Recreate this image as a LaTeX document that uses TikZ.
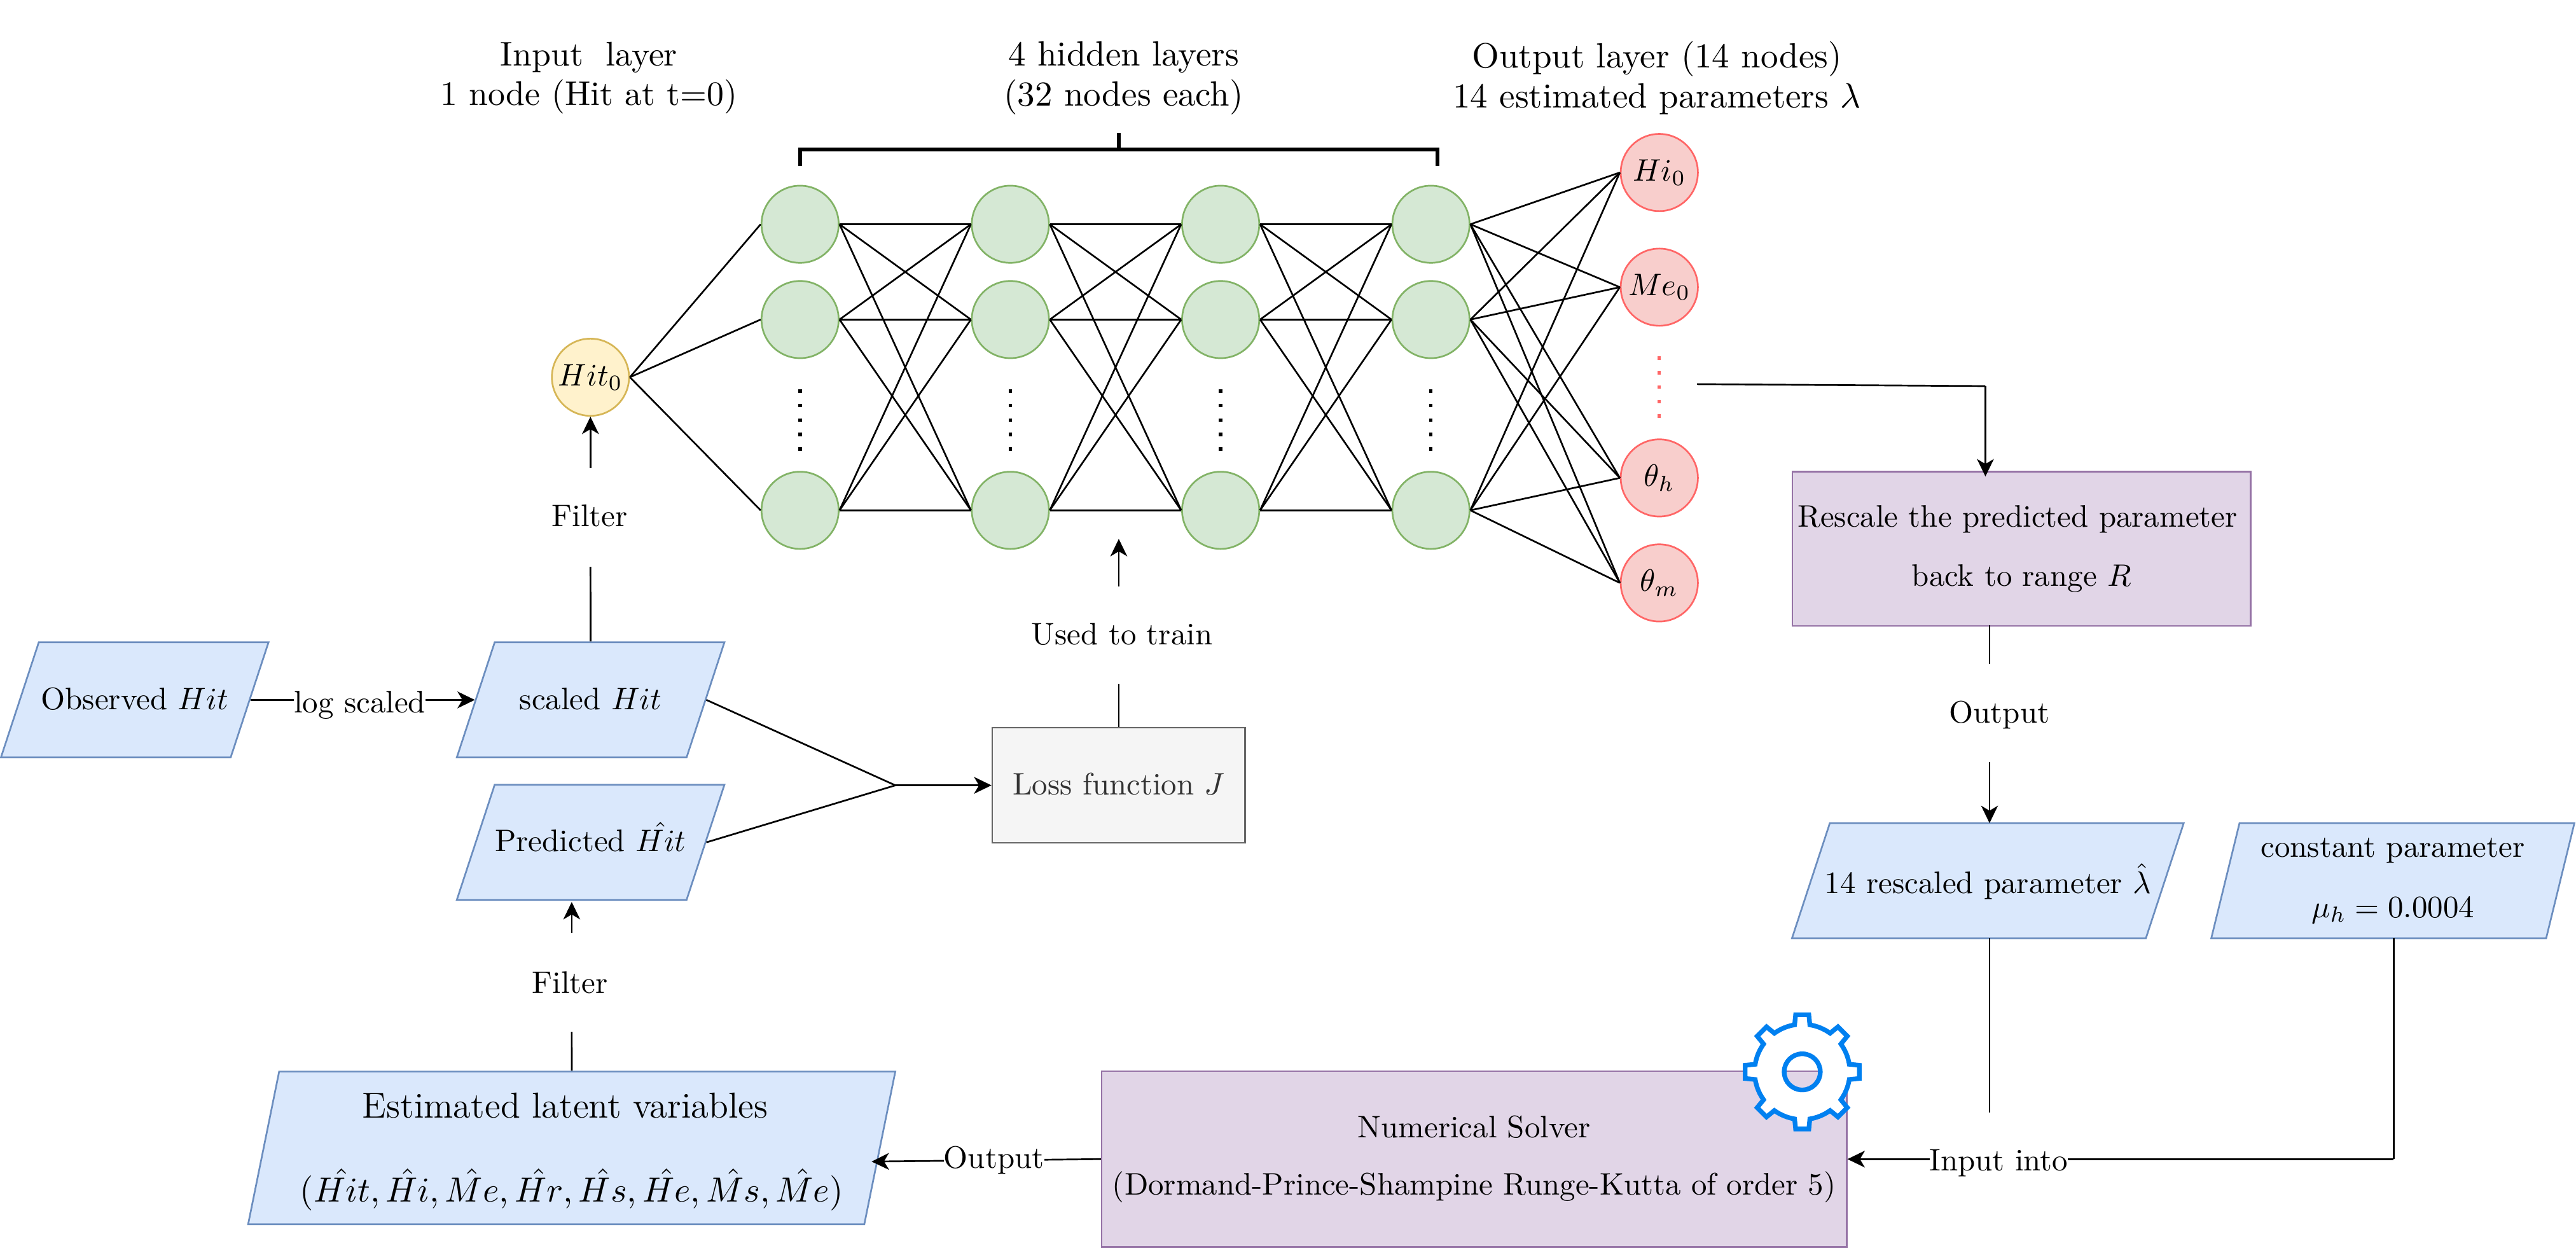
\documentclass[tikz,border=0pt]{standalone}
\usetikzlibrary{arrows.meta,shapes.geometric}

\definecolor{inputfill}{HTML}{FFF2CC}
\definecolor{inputdraw}{HTML}{D6B656}
\definecolor{hiddenfill}{HTML}{D5E8D4}
\definecolor{hiddendraw}{HTML}{82B366}
\definecolor{outfill}{HTML}{F8CECC}
\definecolor{outdraw}{HTML}{FF6666}
\definecolor{datafill}{HTML}{DAE8FC}
\definecolor{datadraw}{HTML}{6C8EBF}
\definecolor{procfill}{HTML}{E1D5E7}
\definecolor{procdraw}{HTML}{9673A6}
\definecolor{lossfill}{HTML}{F5F5F5}
\definecolor{lossdraw}{HTML}{666666}
\definecolor{geardraw}{HTML}{0080F0}

\begin{document}
\begin{tikzpicture}[x=0.528pt, y=0.528pt,
    % Styles
    neuron/.style={circle, line width=0.55pt, minimum size=24.8pt, inner sep=0pt},
    inputnode/.style={neuron, draw=inputdraw, fill=inputfill},
    hiddennode/.style={neuron, draw=hiddendraw, fill=hiddenfill},
    outputnode/.style={neuron, draw=outdraw, fill=outfill},
    databox/.style={trapezium, trapezium stretches body, trapezium left angle=71.8, trapezium right angle=108.2,
        draw=datadraw, fill=datafill, line width=0.55pt, inner sep=0pt, align=center, minimum height=37pt, minimum width=86pt},
    databar/.style={databox, execute at begin node={\rule[-15.5pt]{0pt}{37pt}}},
    procbox/.style={rectangle, draw=procdraw, fill=procfill, line width=0.55pt, inner sep=0pt, align=center},
    lossbox/.style={rectangle, draw=lossdraw, fill=lossfill, text=black!80, line width=0.55pt, inner sep=0pt,
        minimum width=81.3pt, minimum height=37pt, text height=7pt, text depth=1pt},
    heading/.style={font=\fontsize{10}{11.5}\selectfont, scale=1.1, align=center, inner sep=0pt},
    plaintext/.style={inner sep=0pt},
    onwire/.style={inner sep=0pt, fill=white},
    link/.style={line width=0.55pt},
    wire/.style={line width=0.55pt},
    arrow/.style={-{Stealth[length=5.6pt, width=5.4pt, inset=1.6pt]}, line width=0.55pt},
    dotsblack/.style={line width=1.1pt, dash pattern=on 1.1pt off 3.55pt},
    dotsred/.style={outdraw, line width=1pt, dash pattern=on 1.1pt off 3.55pt},
    gearline/.style={draw=geardraw, fill=white, line width=1.5pt, even odd rule},
]
\useasboundingbox (0,0) rectangle (1568,-759.6);

% Headings
\node[heading] (inhead) at (358.5,-47.5) {Input\ \ layer\\1 node (Hit at t=0)};
\node[heading, scale=1.125/1.1] (hidhead) at (684,-47.5) {4 hidden layers\\(32 nodes each)};
\node[heading, scale=1.125/1.1] (outhead) at (1008.5,-47.5) {Output layer (14 nodes)\\14 estimated parameters $\lambda$};

% Input node
\node[inputnode] (hit) at (359.4,-229.6) {$Hit_0$};

% Hidden layers
\foreach \c/\x in {1/487,2/615,3/743,4/871} {
    \node[hiddennode] (h\c a) at (\x,-136.5) {};
    \node[hiddennode] (h\c b) at (\x,-194.5) {};
    \node[hiddennode] (h\c c) at (\x,-310.6) {};
    \draw[dotsblack] (\x,-237) -- (\x,-276);
}

% Output nodes
\node[outputnode] (hi) at (1010,-105) {$Hi_0$};
\node[outputnode] (me) at (1010,-174.8) {$Me_0$};
\node[outputnode] (th) at (1010,-290.9) {$\theta_h$};
\node[outputnode] (tm) at (1010,-354.8) {$\theta_m$};
\draw[dotsred] (1010,-217) -- (1010,-256);

% Connections
\foreach \r in {a,b,c} \draw[link] (hit.east) -- (h1\r.west);
\foreach \c/\n in {1/2,2/3,3/4} \foreach \r in {a,b,c} \foreach \s in {a,b,c}
    \draw[link] (h\c\r.east) -- (h\n\s.west);
\foreach \r in {a,b,c} \foreach \s in {hi,me,th,tm} \draw[link] (h4\r.east) -- (\s.west);

% Bracket over hidden layers
\coordinate (brleft) at (487,-101);
\coordinate (brright) at (875,-101);
\coordinate (brtop) at (681,-91);
\coordinate (brtick) at (681,-81);
\draw[line width=1.1pt] (brleft) |- (brtop) -| (brright);
\draw[line width=1.1pt] (brtop) -- (brtick);

% Data boxes
\node[databar] (obs) at (82,-426) {Observed $Hit$};
\node[databar] (scaled) at (359.5,-426) {scaled $Hit$};
\node[databar] (pred) at (359.5,-512.7) {Predicted $\hat{Hit}$};
\node[databox, minimum width=125.9pt] (resc) at (1210,-536) {\rule[-14.5pt]{0pt}{37pt}\makebox[0pt]{14 rescaled parameter $\hat{\lambda}$}};
\node[databox, minimum width=116.7pt] (const) at (1456.5,-536) {constant parameter\\[7.5pt]$\mu_h = 0.0004$};
\node[databox, trapezium left angle=76.1, trapezium right angle=103.9, minimum width=208pt, minimum height=49.1pt] (est) at (348,-698.7)
    {\fontsize{11.6}{12.7}\selectfont\rule{0pt}{10.5pt}Estimated latent variables\hspace*{4.2pt}\\[15pt]
     \scalebox{1.025}{\fontsize{11.35}{12.7}\selectfont $(\hat{Hit},\hat{Hi},\hat{Me},\hat{Hr},\hat{Hs},\hat{He},\hat{Ms},\hat{Me})$}};

% Process boxes
\node[lossbox] (loss) at (681,-478) {Loss function $J$};
\node[procbox, minimum width=147.3pt, minimum height=49.6pt] (rescale) at (1230.5,-334)
    {Rescale the predicted parameter\hspace*{2.6pt}\\[7pt]back to range $R$};
\node[procbox, minimum width=239.4pt, minimum height=56.5pt] (solver) at (897.3,-705.5)
    {Numerical Solver\\[6.5pt](Dormand-Prince-Shampine Runge-Kutta of order 5)};

% Gear
\begin{scope}[shift={(1097,-652.4)}]
\draw[gearline] (-9.2:29) foreach \a in {0,45,...,315} {
    -- ({\a-9.2}:29) -- ({\a-6.6}:35) -- ({\a+6.6}:35) -- ({\a+9.2}:29)
    arc[start angle=\a+9.2, end angle=\a+35.8, radius=29] } -- cycle (0,0) circle (11);
\end{scope}

% Free ends of connectors
\coordinate (merge) at (545,-478);
\coordinate (outtail) at (1033,-233.8);
\coordinate (outbend) at (1208.5,-235);
\coordinate (rescin) at (1208.5,-290);
\coordinate (filtatop) at (359.4,-285);
\coordinate (filtabot) at (359.4,-345);
\coordinate (traintop) at (681,-328);
\coordinate (trainmid) at (681,-357);
\coordinate (trainbot) at (681,-416);
\coordinate (rescout) at (1211,-380.5);
\coordinate (rescmid) at (1211,-404);
\coordinate (rescback) at (1211,-464);
\coordinate (rescdown) at (1211,-501);
\coordinate (intotop) at (1211,-571);
\coordinate (intobot) at (1211,-677);
\coordinate (constout) at (1457,-571);
\coordinate (constbend) at (1457,-705.5);
\coordinate (filtbtop) at (348,-549);
\coordinate (filtbmid) at (348,-568);
\coordinate (filtbbot) at (348,-628);
\coordinate (estin) at (530.5,-707);

% Arrows
\draw[arrow] (obs.east) -- (scaled.west);
\node[onwire] (logtext) at (219,-429) {log scaled};

\draw[wire] (scaled.east) -- (merge);
\draw[wire] (pred.east) -- (merge);
\draw[arrow] (merge) -- (loss.west);

\draw[wire] (scaled.north) -- (filtabot);
\node[plaintext] (filta) at (359,-314) {Filter};
\draw[arrow] (filtatop) -- (hit.south);

\draw[wire] (loss.north) -- (trainbot);
\node[plaintext] (train) at (683,-386) {Used to train};
\draw[arrow] (trainmid) -- (traintop);

\draw[wire] (outtail) -- (outbend);
\draw[arrow] (outbend) -- (rescin);

\draw[wire] (rescout) -- (rescmid);
\node[plaintext] (outtext) at (1217,-435) {Output};
\draw[arrow] (rescback) -- (rescdown);

\draw[wire] (intotop) -- (intobot);
\draw[wire] (constout) -- (constbend);
\draw[arrow] (constbend) -- (solver.east);
\node[onwire] (intotext) at (1216.6,-708) {Input into};

\draw[arrow] (solver.west) -- (estin);
\node[onwire] (soltext) at (605,-706) {Output};

\draw[wire] (est.north) -- (filtbbot);
\node[plaintext] (filtb) at (347,-598) {Filter};
\draw[arrow] (filtbmid) -- (filtbtop);

\end{tikzpicture}
\end{document}
